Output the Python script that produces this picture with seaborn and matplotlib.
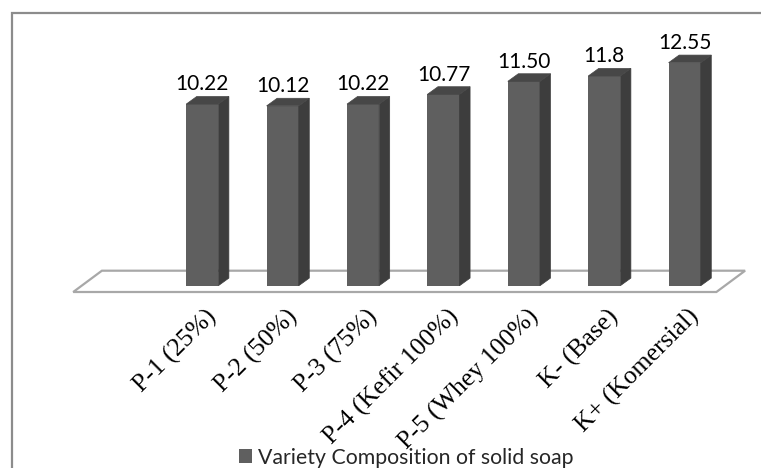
import matplotlib
matplotlib.use("Agg")
import matplotlib.pyplot as plt
from matplotlib.patches import Polygon, Rectangle
import numpy as np
import pandas as pd
import seaborn as sns

# Data
categories = ["P-1 (25%)", "P-2 (50%)", "P-3 (75%)", "P-4 (Kefir 100%)",
              "P-5 (Whey 100%)", "K- (Base)", "K+ (Komersial)"]
values = [10.22, 10.12, 10.22, 10.77, 11.50, 11.8, 12.55]
value_labels = ["10.22", "10.12", "10.22", "10.77", "11.50", "11.8", "12.55"]
series_name = "Variety Composition of solid soap"

# Styling
FRONT = "#5f5f5f"
TOP = "#474747"
SIDE = "#3d3d3d"
FLOOR_EDGE = "#a8a8a8"
BORDER = "#8c8c8c"

W, H, DPI = 761, 468, 100
sns.set_style("white")
plt.rcParams["font.family"] = ["Lato", "DejaVu Sans"]

fig = plt.figure(figsize=(W / DPI, H / DPI), dpi=DPI)
fig.patch.set_facecolor("white")
ax = fig.add_axes([0, 0, 1, 1])

# pixel scale of the plotting plane
px_cat = 80.4      # pixels per category slot
px_val = 17.77     # pixels per value unit
x0_px, y0_px = 202.3, 285.7   # first bar front centre / bar base

df = pd.DataFrame({"sample": categories, "value": values})
sns.barplot(data=df, x="sample", y="value", color=FRONT, saturation=1,
            width=0.40, ax=ax, label=series_name, zorder=3,
            edgecolor=FRONT, linewidth=0)

ax.set_xlim(-x0_px / px_cat, (W - x0_px) / px_cat)
ax.set_ylim(-(H - y0_px) / px_val, y0_px / px_val)
ax.axis("off")

# depth of bars (oblique projection)
ddx = 10.5 / px_cat
ddy = 7.6 / px_val

# floor plate
f_front_dx = -8.5 / px_cat
f_front_dy = -6.3 / px_val
f_back_dx = 20.2 / px_cat
f_back_dy = 15.0 / px_val
left, right = -1.5, len(categories) - 0.5
floor = Polygon([(left + f_front_dx, f_front_dy), (right + f_front_dx, f_front_dy),
                 (right + f_back_dx, f_back_dy), (left + f_back_dx, f_back_dy)],
                closed=True, facecolor="white", edgecolor=FLOOR_EDGE,
                linewidth=1.6, zorder=1)
ax.add_patch(floor)

# side and top faces, value labels
for bar, lab in zip(ax.patches[:len(values)], value_labels):
    x = bar.get_x()
    w = bar.get_width()
    h = bar.get_height()
    side = Polygon([(x + w, 0), (x + w + ddx, ddy), (x + w + ddx, h + ddy), (x + w, h)],
                   closed=True, facecolor=SIDE, edgecolor=SIDE, linewidth=0.5, zorder=3)
    top = Polygon([(x, h), (x + w, h), (x + w + ddx, h + ddy), (x + ddx, h + ddy)],
                  closed=True, facecolor=TOP, edgecolor=TOP, linewidth=0.5, zorder=3)
    ax.add_patch(side)
    ax.add_patch(top)
    ax.text(x + w / 2, h + ddy + 6 / px_val, lab, ha="center", va="baseline",
            fontsize=15, color="black", zorder=4)

# category labels
for i, cat in enumerate(categories):
    ax.text(i + 3 / px_cat, -(305 - y0_px) / px_val, cat, rotation=45,
            rotation_mode="anchor", ha="right", va="top",
            family=["Liberation Serif", "DejaVu Serif"], fontsize=18.5, color="black")

# legend
leg = ax.legend(loc="center left", bbox_to_anchor=(239 / W, 1 - 457.5 / H),
                frameon=False, fontsize=15.3, handlelength=0.6, handleheight=0.6,
                handletextpad=0.3, borderpad=0, borderaxespad=0)

# chart border
fig.patches.append(Rectangle((12 / W, -0.05), 1.2, 1.05 - 13.5 / H,
                             transform=fig.transFigure, fill=False,
                             edgecolor=BORDER, linewidth=1.6, zorder=0))

fig.savefig("out.png", dpi=DPI)
